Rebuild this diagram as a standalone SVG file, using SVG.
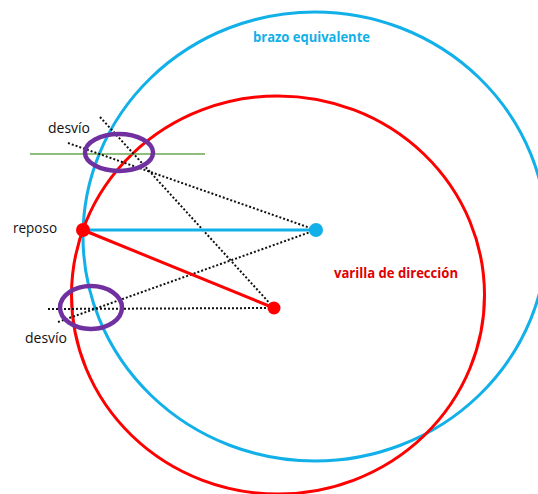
<svg xmlns="http://www.w3.org/2000/svg" width="538" height="494" viewBox="0 0 538 494">
  <style>
    .lbl { font-family: "Open Sans", "Liberation Sans", sans-serif; font-size: 15px; fill: #111; }
    .ttl { font-family: "Open Sans", "Liberation Sans", sans-serif; font-size: 14px; font-weight: bold; }
    .dot { stroke: #111; stroke-width: 2; stroke-dasharray: 2 2; fill: none; }
    .ring { fill: none; stroke: #7030A0; stroke-width: 4.5; }
  </style>
  <rect width="538" height="494" fill="#fff"/>

  <!-- swept paths -->
  <g id="arcs" fill="none" stroke-width="3">
    <ellipse id="blue-path" cx="315" cy="236.5" rx="232" ry="224.5" stroke="#12B0E8"/>
    <ellipse id="red-path" cx="278" cy="295" rx="206.5" ry="199" stroke="#FF0000"/>
  </g>

  <!-- connectors -->
  <g id="connectors">
    <line x1="30" y1="154" x2="205" y2="154" stroke="#6AA84F" stroke-width="1.3"/>
    <line class="dot" x1="68" y1="143" x2="316" y2="230"/>
    <line class="dot" x1="100" y1="117" x2="274" y2="308"/>
    <line class="dot" x1="58" y1="322" x2="316" y2="230"/>
    <line class="dot" x1="48" y1="309" x2="274" y2="308"/>
    <line x1="83" y1="230" x2="316" y2="230" stroke="#12B0E8" stroke-width="3"/>
    <line x1="83" y1="230" x2="274" y2="308" stroke="#FF0000" stroke-width="3"/>
  </g>

  <g id="ring-top"><ellipse class="ring" cx="119" cy="152.5" rx="34" ry="18.5"/></g>
  <g id="ring-bottom"><ellipse class="ring" cx="91" cy="307.5" rx="31" ry="21.5"/></g>

  <g id="pivot-rest"><circle cx="83" cy="230" r="7" fill="#FF0000"/></g>
  <g id="pivot-blue"><circle cx="316" cy="230" r="7" fill="#12B0E8"/></g>
  <g id="pivot-red"><circle cx="274" cy="308" r="6.5" fill="#FF0000"/></g>

  <g id="labels">
    <text class="lbl" x="48" y="133" textLength="42" lengthAdjust="spacingAndGlyphs">desvío</text>
    <text class="lbl" x="13" y="233" textLength="44" lengthAdjust="spacingAndGlyphs">reposo</text>
    <text class="lbl" x="25" y="343" textLength="42" lengthAdjust="spacingAndGlyphs">desvío</text>
    <text class="ttl" x="253" y="42" fill="#12B0E8" textLength="117" lengthAdjust="spacingAndGlyphs">brazo equivalente</text>
    <text class="ttl" x="334" y="278" fill="#E00000" textLength="124" lengthAdjust="spacingAndGlyphs">varilla de dirección</text>
  </g>
</svg>
